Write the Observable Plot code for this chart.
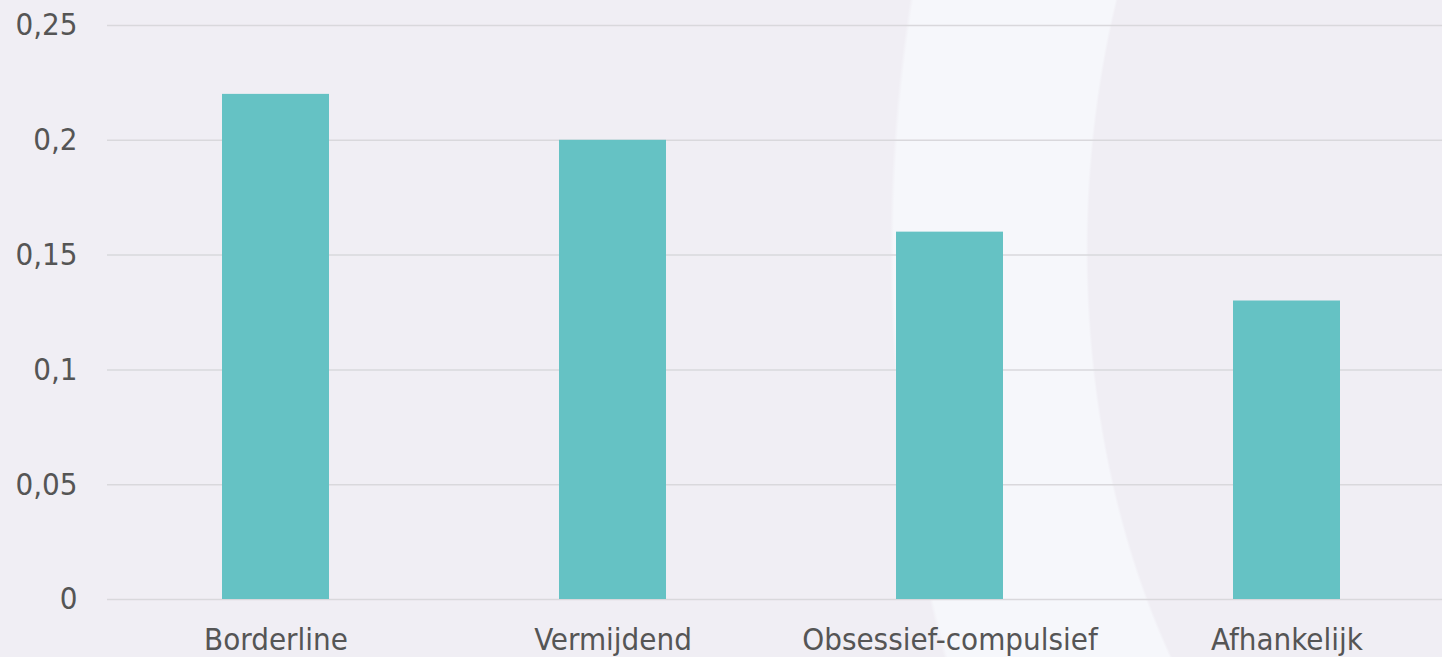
<!DOCTYPE html>
<html>
<head>
<meta charset="utf-8">
<script src="https://cdn.jsdelivr.net/npm/d3@7"></script>
<script src="https://cdn.jsdelivr.net/npm/@observablehq/plot@0.6"></script>
<style>
  html, body { margin: 0; padding: 0; }
  body {
    width: 1442px; height: 657px; overflow: hidden;
    background-color: #f0eef4;
    background-image: radial-gradient(ellipse 620px 1000px at 1510px 250px,
      #f0eef4 0%, #f0eef4 68%, #f6f7fb 68.4%, #f6f7fb 99.4%, #f0eef4 100%);
  }
  #chart svg { display: block; background: transparent; }
</style>
</head>
<body>
<div id="chart"></div>
<script>
const categories = ["Borderline", "Vermijdend", "Obsessief-compulsief", "Afhankelijk"];
const values = [0.22, 0.20, 0.16, 0.13];
const yTicks = [0, 0.05, 0.1, 0.15, 0.2, 0.25];
const yTickLabels = ["0", "0,05", "0,1", "0,15", "0,2", "0,25"];

const data = categories.map((c, i) => ({category: c, value: values[i]}));
const FONT = "'DejaVu Sans Condensed', 'DejaVu Sans', sans-serif";

const chart = Plot.plot({
  width: 1442,
  height: 657,
  marginLeft: 107,
  marginRight: 0,
  marginTop: 25,
  marginBottom: 58,
  style: {fontFamily: FONT, fontSize: "31px", color: "#555555", background: "transparent"},
  x: {domain: categories, range: [106, 1456], paddingInner: 0.683, paddingOuter: 0.3415, label: null},
  y: {domain: [0, 0.25], label: null},
  marks: [
    Plot.gridY(yTicks, {stroke: "#d9d8dc", strokeOpacity: 1, strokeWidth: 1.5}),
    Plot.barY(data, {x: "category", y: "value", fill: "#65c2c4"}),
    Plot.axisY(yTicks, {tickSize: 0, tickPadding: 30, fill: "#555555", fontSize: 31,
      tickFormat: (d) => yTickLabels[yTicks.indexOf(d)]}),
    Plot.axisX({tickSize: 0, tickPadding: 28, fill: "#555555", fontSize: 31})
  ]
});
document.getElementById("chart").appendChild(chart);
</script>
</body>
</html>
